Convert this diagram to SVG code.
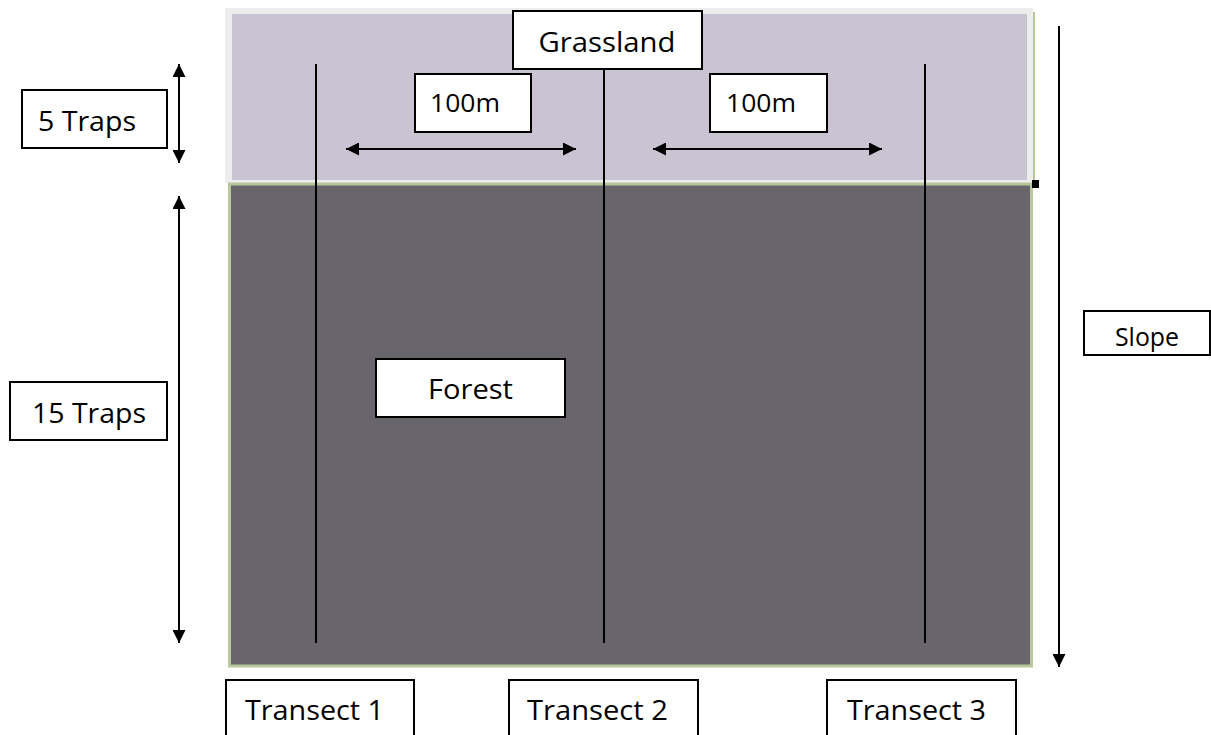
<svg xmlns="http://www.w3.org/2000/svg" width="1211" height="735" viewBox="0 0 1211 735">
<style>
.box{fill:#fff;stroke:#000;stroke-width:2}
.t{font-family:"Open Sans","Liberation Sans",sans-serif;fill:#000}
.ln{stroke:#000;stroke-width:2;fill:none}
</style>
<defs>
<marker id="ah" viewBox="0 0 13 13" refX="13" refY="6.5" markerWidth="13" markerHeight="13" markerUnits="userSpaceOnUse" orient="auto-start-reverse">
<path d="M0,0 L13,6.5 L0,13 z" fill="#000"/>
</marker>
</defs>
<rect width="1211" height="735" fill="#fff"/>
<g id="grassland-area">
<rect x="225" y="8" width="808" height="175" fill="#EDEDED"/>
<rect x="232" y="14" width="795" height="166" fill="#C9C3D2"/>
<line x1="1034" y1="12" x2="1034" y2="183" stroke="#B7C99B" stroke-width="2"/>
</g>
<g id="forest-area">
<rect x="229.5" y="184" width="802" height="482" fill="#68656C" stroke="#B7C99B" stroke-width="3"/>
<rect x="1032" y="180" width="7" height="8" fill="#000"/>
</g>
<g id="connectors">
<line class="ln" x1="316" y1="64" x2="316" y2="643"/>
<line class="ln" x1="604" y1="68" x2="604" y2="643"/>
<line class="ln" x1="925" y1="64" x2="925" y2="643"/>
<line class="ln" x1="346" y1="149" x2="576" y2="149" marker-start="url(#ah)" marker-end="url(#ah)"/>
<line class="ln" x1="653" y1="149" x2="882" y2="149" marker-start="url(#ah)" marker-end="url(#ah)"/>
<line class="ln" x1="179" y1="64" x2="179" y2="163" marker-start="url(#ah)" marker-end="url(#ah)"/>
<line class="ln" x1="179" y1="196" x2="179" y2="643" marker-start="url(#ah)" marker-end="url(#ah)"/>
<line class="ln" x1="1059" y1="26" x2="1059" y2="667" marker-end="url(#ah)"/>
</g>
<g id="grassland">
<rect class="box" x="513" y="11" width="189" height="58"/>
<text class="t" x="607" y="52" font-size="28" text-anchor="middle" textLength="137" lengthAdjust="spacingAndGlyphs">Grassland</text>
</g>
<g id="dist1">
<rect class="box" x="415" y="74" width="116" height="58"/>
<text class="t" x="430" y="112" font-size="25" textLength="70" lengthAdjust="spacingAndGlyphs">100m</text>
</g>
<g id="dist2">
<rect class="box" x="710" y="74" width="117" height="58"/>
<text class="t" x="726" y="112" font-size="25" textLength="70" lengthAdjust="spacingAndGlyphs">100m</text>
</g>
<g id="traps5">
<rect class="box" x="22" y="90" width="145" height="58"/>
<text class="t" x="38" y="131" font-size="28" textLength="98" lengthAdjust="spacingAndGlyphs">5 Traps</text>
</g>
<g id="traps15">
<rect class="box" x="10" y="382" width="157" height="58"/>
<text class="t" x="32" y="423" font-size="28" textLength="114" lengthAdjust="spacingAndGlyphs">15 Traps</text>
</g>
<g id="forest">
<rect class="box" x="376" y="359" width="189" height="58"/>
<text class="t" x="428" y="399" font-size="28" textLength="85" lengthAdjust="spacingAndGlyphs">Forest</text>
</g>
<g id="slope">
<rect class="box" x="1084" y="311" width="126" height="44"/>
<text class="t" x="1115" y="346" font-size="25" textLength="64" lengthAdjust="spacingAndGlyphs">Slope</text>
</g>
<g id="transect1">
<rect class="box" x="226" y="680" width="188" height="60"/>
<text class="t" x="245" y="720" font-size="28" textLength="139" lengthAdjust="spacingAndGlyphs">Transect 1</text>
</g>
<g id="transect2">
<rect class="box" x="509" y="680" width="189" height="60"/>
<text class="t" x="527" y="720" font-size="28" textLength="141" lengthAdjust="spacingAndGlyphs">Transect 2</text>
</g>
<g id="transect3">
<rect class="box" x="827" y="680" width="189" height="60"/>
<text class="t" x="847" y="720" font-size="28" textLength="139" lengthAdjust="spacingAndGlyphs">Transect 3</text>
</g>
</svg>
